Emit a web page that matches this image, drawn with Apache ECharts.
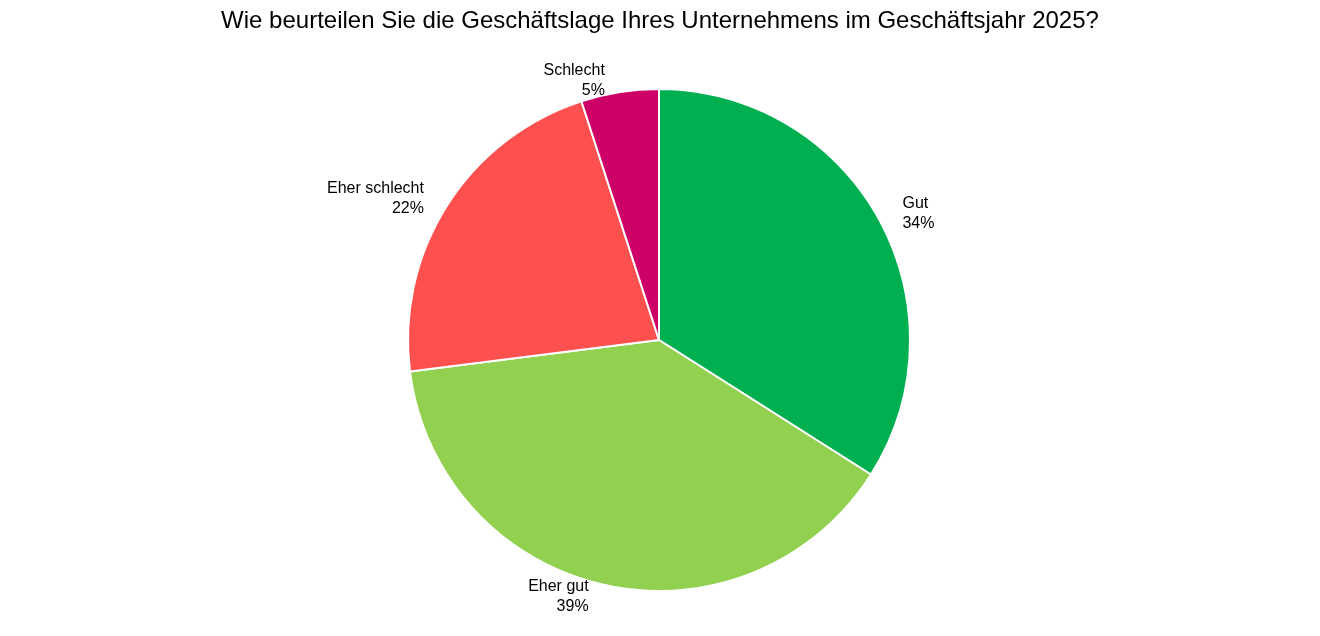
<!DOCTYPE html>
<html><head><meta charset="utf-8">
<script src="https://cdn.jsdelivr.net/npm/echarts@6/dist/echarts.min.js"></script>
<style>html,body{margin:0;padding:0;background:#fff}#c{width:1320px;height:636px}</style>
</head><body><div id="c"></div>
<script>
const categories = ["Gut", "Eher gut", "Eher schlecht", "Schlecht"];
const values = [34, 39, 22, 5];
const colors = ["#00B050", "#92D050", "#FF5050", "#CC0066"];
const chart = echarts.init(document.getElementById('c'));
chart.setOption({
  animation: false,
  title: {text: "Wie beurteilen Sie die Geschäftslage Ihres Unternehmens im Geschäftsjahr 2025?", left: 'center', top: 4,
    textStyle: {fontFamily: 'Liberation Sans, Arial', fontSize: 24, fontWeight: 'normal', color: '#000'}},
  series: [{
    type: 'pie', center: [659, 340], radius: [0, 251], startAngle: 90, clockwise: true,
    data: categories.map((n, i) => ({name: n, value: values[i], itemStyle: {color: colors[i]}})),
    itemStyle: {borderColor: '#fff', borderWidth: 2},
    label: {show: true, position: 'outside', formatter: '{b}\n{c}%', fontFamily: 'Liberation Sans, Arial', fontSize: 16, color: '#000', lineHeight: 20, align: 'center'},
    labelLine: {show: false, length: 12, length2: 8},
    emphasis: {disabled: true}
  }]
});
</script></body></html>
